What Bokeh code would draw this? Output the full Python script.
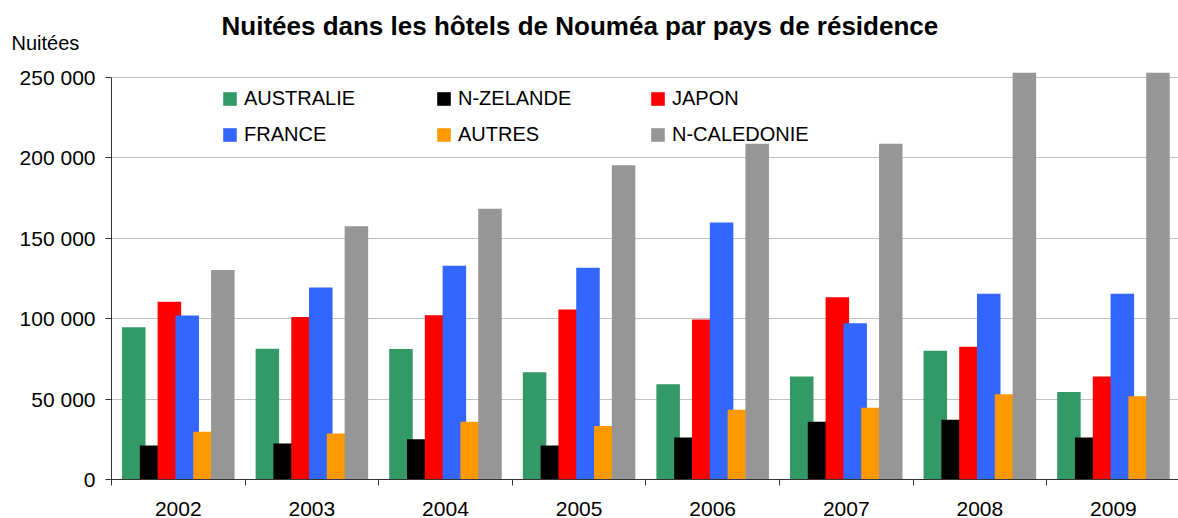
from bokeh.plotting import figure
from bokeh.models import (ColumnDataSource, Range1d, FixedTicker, Legend, LegendItem, Title)
from bokeh.embed import file_html
from bokeh.resources import INLINE
import numpy as np

years = ["2002", "2003", "2004", "2005", "2006", "2007", "2008", "2009"]
australie = [94600, 81200, 81100, 66600, 59200, 64000, 79900, 54400]
nzelande = [21100, 22400, 25000, 21100, 26100, 35800, 37100, 26100]
japon = [110400, 101000, 102000, 105600, 99400, 113200, 82400, 64000]
france = [101800, 119200, 132700, 131500, 159600, 97100, 115300, 115300]
autres = [29600, 28600, 35800, 33300, 43300, 44500, 53000, 51700]
ncaledonie = [130200, 157300, 168100, 195200, 208500, 208500, 265000, 270000]

series_names = ["AUSTRALIE", "N-ZELANDE", "JAPON", "FRANCE", "AUTRES", "N-CALEDONIE"]
series_values = [australie, nzelande, japon, france, autres, ncaledonie]
colors = ["#339966", "#000000", "#FF0000", "#3366FF", "#FF9900", "#969696"]

yticks = [0, 50000, 100000, 150000, 200000, 250000]

FONT = "Liberation Sans"

n = len(years)
centers = np.arange(n) + 0.5

p = figure(width=1178, height=518, output_backend="svg", toolbar_location=None,
           x_range=Range1d(0, 7.987), y_range=Range1d(0, 252800),
           min_border_left=111, min_border_right=0, min_border_top=72, min_border_bottom=39)
p.outline_line_color = None
p.background_fill_color = "white"

step = 0.1333
bw = 0.176
renderers = []
for i, (name, vals, col) in enumerate(zip(series_names, series_values, colors)):
    src = ColumnDataSource(dict(x=centers + (i - 2.5) * step, top=vals))
    r = p.vbar(x="x", top="top", width=bw, source=src, fill_color=col, line_color=None)
    renderers.append(r)

# axes
p.xaxis.ticker = FixedTicker(ticks=list(centers), minor_ticks=list(range(n + 1)))
p.xaxis.major_label_overrides = {float(c): y for c, y in zip(centers, years)}
p.xaxis.major_tick_line_color = None
p.xaxis.major_tick_in = 0
p.xaxis.major_tick_out = 0
p.xaxis.minor_tick_in = 0
p.xaxis.minor_tick_out = 6
p.xaxis.minor_tick_line_color = "#333333"
p.xaxis.axis_line_color = "#333333"
p.xaxis.major_label_text_font = FONT
p.xaxis.major_label_text_font_size = "21px"
p.xaxis.major_label_text_color = "black"
p.xaxis.major_label_standoff = 16
p.xaxis.axis_label_standoff = 0

p.yaxis.ticker = FixedTicker(ticks=yticks, minor_ticks=[])
p.yaxis.major_label_overrides = {v: f"{v:,}".replace(",", " ") for v in yticks}
p.yaxis.bounds = (0, 250000)
p.yaxis.major_tick_in = 0
p.yaxis.major_tick_out = 6
p.yaxis.major_tick_line_color = "#333333"
p.yaxis.axis_line_color = "#333333"
p.yaxis.minor_tick_line_color = None
p.yaxis.major_label_text_font = FONT
p.yaxis.major_label_text_font_size = "21px"
p.yaxis.major_label_text_color = "black"
p.yaxis.major_label_standoff = 10

p.xgrid.grid_line_color = None
p.ygrid.ticker = FixedTicker(ticks=yticks[1:])
p.ygrid.grid_line_color = "#C0C0C0"

# legend
items = [LegendItem(label=nm, renderers=[r]) for nm, r in zip(series_names, renderers)]
legend = Legend(items=items, location=(110, 333), orientation="horizontal", ncols=3,
                glyph_width=17, glyph_height=17, label_standoff=6, label_width=178,
                label_height=20, spacing=13, padding=0, margin=0,
                label_text_font=FONT, label_text_font_size="20px", label_text_color="black",
                background_fill_alpha=0, border_line_alpha=0)
p.add_layout(legend, "center")

# unit label and title (stacked above the plot area)
p.add_layout(Title(text="Nuitées", align="left", offset=-100, standoff=37,
                   text_font=FONT, text_font_size="20px", text_font_style="normal",
                   text_color="black"), "above")
p.add_layout(Title(text="Nuitées dans les hôtels de Nouméa par pays de résidence",
                   align="left", offset=110, standoff=-58,
                   text_font=FONT, text_font_size="26px", text_font_style="bold",
                   text_color="black"), "above")

open("out.html", "w").write(file_html(p, INLINE))
